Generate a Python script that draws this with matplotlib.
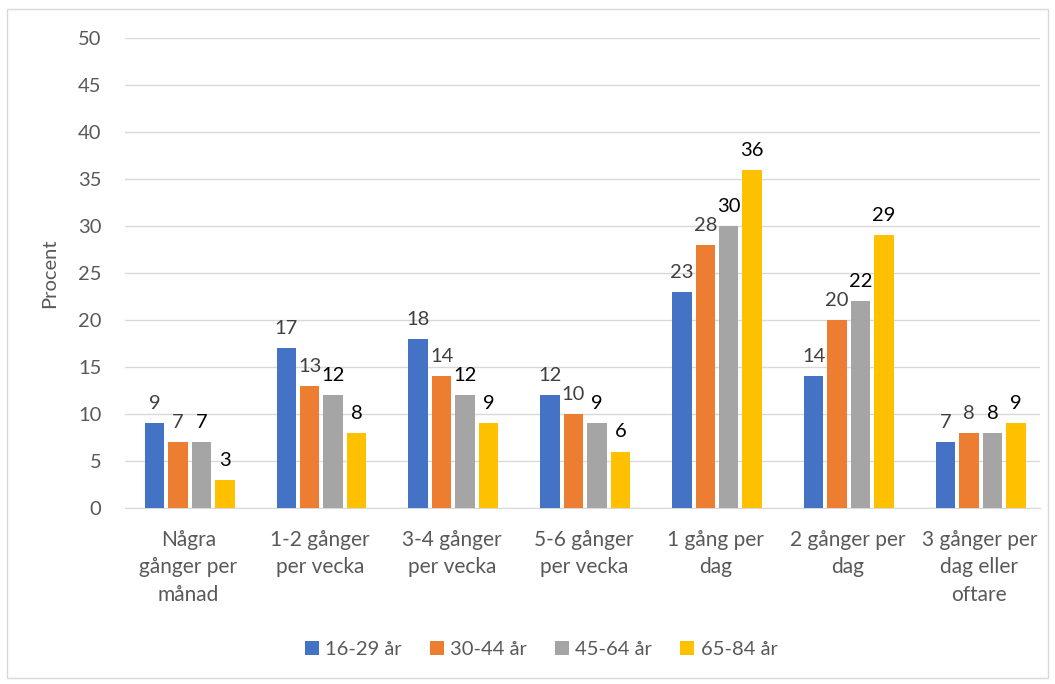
import matplotlib
matplotlib.use("Agg")
import matplotlib.pyplot as plt
from matplotlib.patches import Rectangle
import numpy as np

plt.rcParams['font.family'] = ['Lato', 'DejaVu Sans']

categories = ["Några\ngånger per\nmånad", "1-2 gånger\nper vecka", "3-4 gånger\nper vecka",
              "5-6 gånger\nper vecka", "1 gång per\ndag", "2 gånger per\ndag",
              "3 gånger per\ndag eller\noftare"]
series_names = ["16-29 år", "30-44 år", "45-64 år", "65-84 år"]
age_16_29 = [9, 17, 18, 12, 23, 14, 7]
age_30_44 = [7, 13, 14, 10, 28, 20, 8]
age_45_64 = [7, 12, 12, 9, 30, 22, 8]
age_65_84 = [3, 8, 9, 6, 36, 29, 9]
yticks = [0, 5, 10, 15, 20, 25, 30, 35, 40, 45, 50]

series = [age_16_29, age_30_44, age_45_64, age_65_84]
colors = ["#4472C4", "#ED7D31", "#A5A5A5", "#FFC000"]
label_colors = ["#404040", "#404040", "#000000", "#000000"]

fig = plt.figure(figsize=(10.55, 6.84), dpi=100)
ax = fig.add_axes([0.1185, 0.2573, 0.8673, 0.6871])

x = np.arange(len(categories))
step = 0.178
width = 0.148
for i, (vals, c, lc, name) in enumerate(zip(series, colors, label_colors, series_names)):
    pos = x + (i - 1.5) * step + 0.01
    bars = ax.bar(pos, vals, width=width, color=c, label=name, zorder=3)
    for b, v in zip(bars, vals):
        ax.annotate(str(v), (b.get_x() + b.get_width() / 2, v), xytext=(0, 8),
                    textcoords="offset points", ha="center", va="bottom",
                    fontsize=14.5, color=lc)

ax.set_xlim(-0.48, 6.46)
ax.set_ylim(0, 50)
ax.set_yticks(yticks)
ax.set_xticks(x)
ax.set_xticklabels(categories, fontsize=15, color="#595959", linespacing=1.45)
ax.tick_params(axis="y", labelsize=14.5, labelcolor="#595959", length=0, pad=17)
ax.tick_params(axis="x", length=0, pad=16)
ax.grid(axis="y", color="#D9D9D9", linewidth=1, zorder=0)
for s in ["top", "right", "left"]:
    ax.spines[s].set_visible(False)
ax.spines["bottom"].set_color("#D9D9D9")
ax.set_ylabel("Procent", fontsize=14.5, color="#595959", labelpad=14)

fig.legend(loc="center", bbox_to_anchor=(0.513, 0.05), ncol=4, frameon=False,
           fontsize=14.5, labelcolor="#595959", handlelength=0.7, handleheight=0.7,
           handletextpad=0.3, columnspacing=1.4)

fig.patches.append(Rectangle((0.0066, 0.009), 0.987, 0.978, transform=fig.transFigure,
                             fill=False, edgecolor="#D9D9D9", linewidth=1))

fig.savefig("out.png", dpi=100, facecolor="white")
